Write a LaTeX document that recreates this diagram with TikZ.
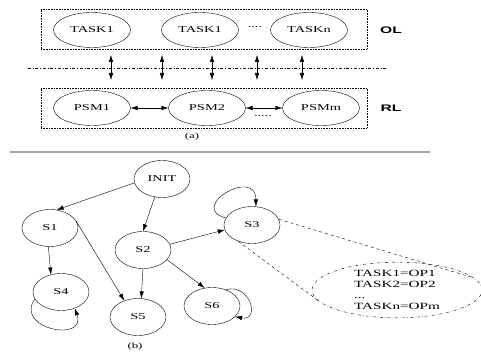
\documentclass[tikz,border=0pt]{standalone}
\usepackage{fontspec}
\setmainfont[FakeStretch=1.6]{Liberation Serif}
\newfontfamily\layerfont[FakeStretch=1.65]{Liberation Sans}
\usetikzlibrary{arrows.meta,shapes}

\begin{document}
\begin{tikzpicture}[x=1pt,y=1pt,
  >={Latex[length=7pt,width=4.5pt]},
  task/.style={draw,ellipse,minimum width=77pt,minimum height=35pt,inner sep=0pt,font=\fontsize{9}{10}\selectfont},
  state/.style={draw,ellipse,minimum width=56pt,minimum height=37pt,inner sep=0pt,font=\fontsize{9}{10}\selectfont},
  layer/.style={draw,densely dotted,line width=0.6pt,inner sep=0pt,minimum width=326pt,minimum height=40pt},
  lbl/.style={font=\layerfont\bfseries\fontsize{9.5}{11}\selectfont},
  captext/.style={font=\fontsize{8}{9}\selectfont}]
\useasboundingbox (0,0) rectangle (481,-352);
% (a) layers
\node[layer] (olbox) at (204,-29) {};
\node[layer] (rlbox) at (204,-108) {};
\node[task] (t1) at (92,-30) {TASK1};
\node[task] (t2) at (200,-30) {TASK1};
\node[task] (tn) at (309,-30) {TASKn};
\node[font=\fontsize{9}{10}\selectfont] (tdots) at (255,-27) {....};
\node[lbl] (ol) at (391,-30) {OL};
\node[task] (p1) at (92,-108) {PSM1};
\node[task] (p2) at (207,-108) {PSM2};
\node[task] (pm) at (321,-108) {PSMm};
\node[font=\fontsize{9}{10}\selectfont] (pdots) at (263,-116) {.....};
\node[lbl] (rl) at (391,-108) {RL};
\draw[<->] (p1) -- (p2);
\draw[<->] (p2) -- (pm);
\coordinate (sepl) at (28,-68);
\coordinate (sepr) at (388,-68);
\draw[dash dot] (sepl) -- (sepr);
\foreach \x [count=\i] in {111,162,212,257,302} {
  \coordinate (up\i) at (\x,-55);
  \coordinate (dn\i) at (\x,-80);
  \draw[<->] (up\i) -- (dn\i);
}
\node[captext] (capa) at (192,-137) {(a)};
\coordinate (gl) at (10,-152);
\coordinate (gr) at (430,-152);
\draw[gray!70,line width=1.5pt] (gl) -- (gr);
% (b) state machine
\node[state] (init) at (162,-179) {INIT};
\node[state] (s1) at (50,-228) {S1};
\node[state] (s2) at (143,-250) {S2};
\node[state] (s3) at (252,-225) {S3};
\node[state] (s4) at (61,-292) {S4};
\node[state] (s5) at (138,-317) {S5};
\node[state] (s6) at (212,-306) {S6};
\node[draw,ellipse,dash dot,minimum width=170pt,minimum height=54pt,inner sep=0pt,align=left,font=\fontsize{9.5}{11}\selectfont] (ops) at (397,-290) {TASK1=OP1\\TASK2=OP2\\...\\TASKn=OPm};
\draw[->] (init.188) -- (s1.70);
\draw[->] (init.248) -- (s2.90);
\draw[->] (s1.265) -- (s4.120);
\draw[->] (s1.15) -- (s5.130);
\draw[->] (s2.south) -- (s5.80);
\draw[->] (s2.-22) -- (s6.112);
\draw[->] (s2.12) -- (s3.190);
\draw[->] (s3.165) to[out=165,in=90,looseness=3.2] (s3.78);
\draw[->] (s4.195) to[out=-125,in=-70,looseness=2.3] (s4.310);
\draw[->] (s6.50) to[out=15,in=-10,looseness=2.3] (s6.-25);
\draw[dashed] (s3.12) -- (ops.9);
\draw[dashed] (s3.-130) -- (ops.188);
\node[captext] (capb) at (135,-347) {(b)};
\end{tikzpicture}
\end{document}
